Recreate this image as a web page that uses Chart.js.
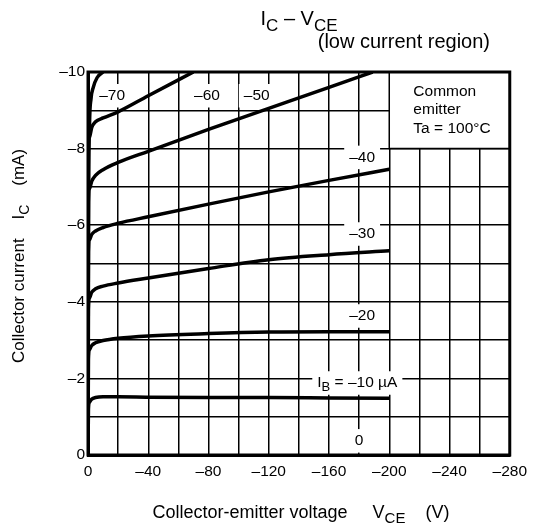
<!DOCTYPE html>
<html>
<head>
<meta charset="utf-8">
<script src="https://cdn.jsdelivr.net/npm/chart.js@4"></script>
<style>
  html, body { margin: 0; padding: 0; background: #fff; }
</style>
</head>
<body>
<canvas id="chart" width="534" height="525"></canvas>
<script>
// IB curves, collector-emitter voltage (V) and collector current (mA)
const vceShort = [0, -0.3, -1, -2.5, -5, -10, -20, -40, -80, -120, -160, -200];
const ic10 = [0, -1.2, -1.38, -1.46, -1.5, -1.52, -1.52, -1.51, -1.5, -1.5, -1.49, -1.48];
const ic20 = [0, -2.5, -2.75, -2.86, -2.93, -2.99, -3.05, -3.11, -3.17, -3.21, -3.22, -3.22];
const ic30 = [0, -3.8, -4.1, -4.25, -4.34, -4.41, -4.49, -4.62, -4.87, -5.1, -5.23, -5.33];
const ic40 = [0, -5.3, -5.62, -5.76, -5.85, -5.94, -6.05, -6.22, -6.55, -6.87, -7.17, -7.46];
const vce50 = [0, -0.3, -1, -2.5, -5, -10, -20, -40, -80, -120, -160, -189];
const ic50 = [0, -6.6, -6.95, -7.15, -7.3, -7.45, -7.64, -7.93, -8.5, -9.05, -9.6, -10];
const vce60 = [0, -0.3, -1, -2.5, -5, -10, -20, -40, -70];
const ic60 = [0, -7.9, -8.3, -8.55, -8.7, -8.8, -8.96, -9.38, -10];
const vce70 = [0, -0.3, -1, -2, -3.5, -6, -10];
const ic70 = [0, -6, -8.6, -9.3, -9.6, -9.85, -10];

// curve labels: text, V position, I position
const curveLabels = ['–70', '–60', '–50', '–40', '–30', '–20', '0'];
const labelV = [-16, -79, -112, -182, -182, -182, -180];
const labelI = [-9.38, -9.38, -9.38, -7.77, -5.77, -3.63, -0.37];

const FONT = '"Liberation Sans", Arial, sans-serif';

function toPoints(xs, ys) {
  return xs.map((x, i) => ({ x: x, y: ys[i] }));
}

function curve(xs, ys) {
  return {
    data: toPoints(xs, ys),
    borderColor: '#000',
    borderWidth: 3.5,
    pointRadius: 0,
    fill: false,
    cubicInterpolationMode: 'monotone'
  };
}

// draw text with subscript pieces
function runsWidth(ctx, runs, size) {
  let w = 0;
  runs.forEach(r => {
    ctx.font = (r.sub ? Math.round(size * 0.85) : size) + 'px ' + FONT;
    w += ctx.measureText(r.t).width;
  });
  return w;
}

function drawRuns(ctx, runs, x, y, size, align) {
  const w = runsWidth(ctx, runs, size);
  let cx = x;
  if (align === 'center') cx = x - w / 2;
  if (align === 'right') cx = x - w;
  ctx.textAlign = 'left';
  ctx.fillStyle = '#000';
  runs.forEach(r => {
    ctx.font = (r.sub ? Math.round(size * 0.85) : size) + 'px ' + FONT;
    ctx.fillText(r.t, cx, r.sub ? y + size * 0.3 : y);
    cx += ctx.measureText(r.t).width;
  });
  return w;
}

function boxedLabel(ctx, runs, x, y, size) {
  const w = runsWidth(ctx, runs, size);
  ctx.fillStyle = '#fff';
  ctx.fillRect(x - w / 2 - 5, y - size / 2 - 4, w + 10, size + 8);
  ctx.textBaseline = 'middle';
  drawRuns(ctx, runs, x, y, size, 'center');
}

const decorPlugin = {
  id: 'decor',
  beforeDatasetsDraw(chart) {
    const ctx = chart.ctx;
    const a = chart.chartArea;
    const xs = chart.scales.x, ys = chart.scales.y;
    ctx.save();
    // condition box
    const bx = xs.getPixelForValue(-200);
    const by = ys.getPixelForValue(-8);
    ctx.fillStyle = '#fff';
    ctx.fillRect(bx, a.top, a.right - bx, by - a.top);
    ctx.strokeStyle = '#000';
    ctx.lineWidth = 1.5;
    ctx.beginPath();
    ctx.moveTo(bx, a.top);
    ctx.lineTo(bx, by);
    ctx.lineTo(a.right, by);
    ctx.stroke();
    ctx.textBaseline = 'middle';
    const tx = xs.getPixelForValue(-216);
    drawRuns(ctx, [{ t: 'Common' }], tx, ys.getPixelForValue(-9.48), 15.5, 'left');
    drawRuns(ctx, [{ t: 'emitter' }], tx, ys.getPixelForValue(-9.02), 15.5, 'left');
    drawRuns(ctx, [{ t: 'Ta = 100°C' }], tx, ys.getPixelForValue(-8.53), 15.5, 'left');

    // curve labels (under the curves)
    curveLabels.forEach((t, i) => {
      boxedLabel(ctx, [{ t: t }], xs.getPixelForValue(labelV[i]), ys.getPixelForValue(labelI[i]), 15.5);
    });
    boxedLabel(ctx, [{ t: 'I' }, { t: 'B', sub: true }, { t: ' = –10 µA' }],
      xs.getPixelForValue(-178.8), ys.getPixelForValue(-1.88), 15.5);

    // frame
    ctx.strokeStyle = '#000';
    ctx.lineWidth = 3;
    ctx.strokeRect(a.left, a.top, a.right - a.left, a.bottom - a.top);
    ctx.restore();
  },
  afterDraw(chart) {
    const ctx = chart.ctx;
    ctx.save();
    ctx.textBaseline = 'alphabetic';
    drawRuns(ctx, [{ t: 'I' }, { t: 'C', sub: true }, { t: ' – V' }, { t: 'CE', sub: true }], 299, 25, 20, 'center');
    drawRuns(ctx, [{ t: '(low current region)' }], 490, 48, 20, 'right');
    drawRuns(ctx, [{ t: 'Collector-emitter voltage     V' }, { t: 'CE', sub: true }, { t: '    (V)' }], 301, 518, 18, 'center');

    ctx.translate(24, 256);
    ctx.rotate(-Math.PI / 2);
    drawRuns(ctx, [{ t: 'Collector current    I' }, { t: 'C', sub: true }, { t: '    (mA)' }], 0, 0, 17, 'center');
    ctx.restore();
  }
};

function dashLabel(v) {
  return v === 0 ? '0' : '–' + Math.abs(v);
}

new Chart(document.getElementById('chart'), {
  type: 'line',
  data: {
    datasets: [
      curve(vceShort, ic10),
      curve(vceShort, ic20),
      curve(vceShort, ic30),
      curve(vceShort, ic40),
      curve(vce50, ic50),
      curve(vce60, ic60),
      curve(vce70, ic70)
    ]
  },
  options: {
    responsive: false,
    animation: false,
    layout: { padding: { left: 0, right: 20, top: 72, bottom: 0 } },
    plugins: {
      legend: { display: false },
      tooltip: { enabled: false }
    },
    scales: {
      x: {
        type: 'linear',
        min: -280,
        max: 0,
        reverse: true,
        afterFit: s => { s.height = 70; },
        grid: { color: '#000', lineWidth: 1.5, drawTicks: false },
        border: { display: true, color: '#000', width: 3 },
        ticks: {
          stepSize: 20,
          autoSkip: false,
          maxRotation: 0,
          padding: 7,
          color: '#000',
          font: { family: FONT, size: 15.5 },
          callback: v => (Math.abs(v) % 40 === 0 ? dashLabel(v) : '')
        }
      },
      y: {
        type: 'linear',
        min: -10,
        max: 0,
        reverse: true,
        afterFit: s => { s.width = 88; },
        grid: { color: '#000', lineWidth: 1.5, drawTicks: false },
        border: { display: true, color: '#000', width: 3 },
        ticks: {
          stepSize: 1,
          autoSkip: false,
          padding: 3,
          color: '#000',
          font: { family: FONT, size: 15.5 },
          callback: v => (Math.abs(v) % 2 === 0 ? dashLabel(v) : '')
        }
      }
    }
  },
  plugins: [decorPlugin]
});
</script>
</body>
</html>
